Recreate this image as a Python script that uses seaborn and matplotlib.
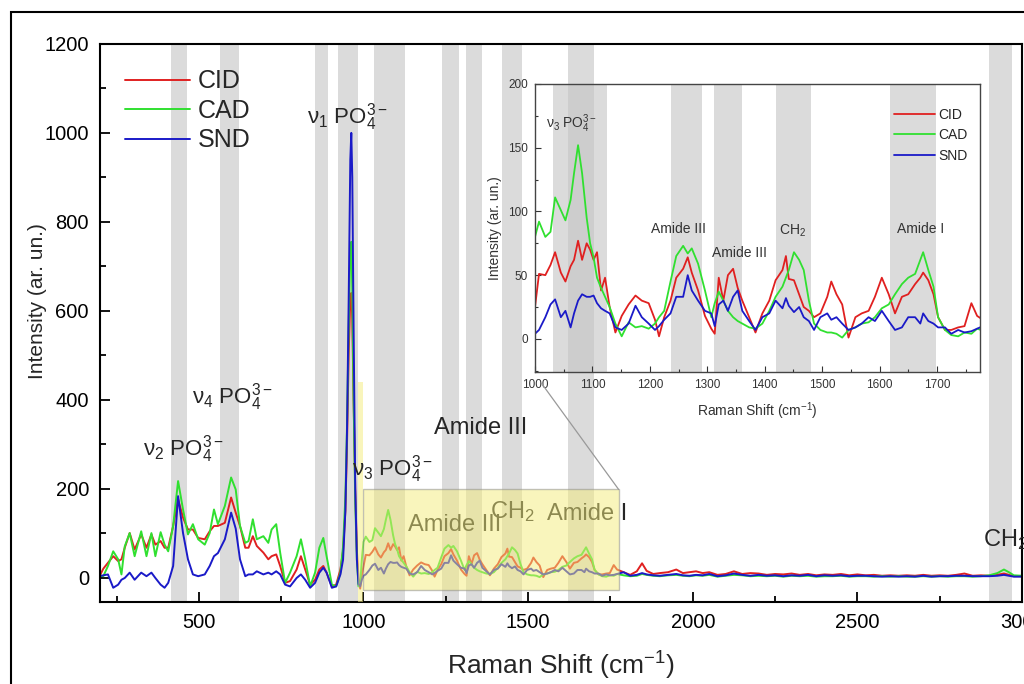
import numpy as np
import pandas as pd
import matplotlib
matplotlib.use('Agg')
import matplotlib.pyplot as plt
import seaborn as sns
from matplotlib.patches import Rectangle, ConnectionPatch

# Raman spectra (shift in cm-1, intensity in ar. un.)
x_low = [200, 210, 224, 240, 255, 265, 275, 290, 305, 325,
         341, 356, 368, 384, 396, 407, 422, 437, 452, 467,
         482, 498, 518, 533, 546, 558, 579, 598, 612, 625,
         641, 651, 664, 676, 696, 711, 721, 735, 747, 762,
         777, 797, 810, 823, 838, 853, 866, 878, 888, 904,
         917, 930, 938, 945, 950, 955, 960, 963, 966, 970,
         975, 980, 985, 990, 995]
cad_low = [5, 3, 26, 59, 41, 7, 70, 100, 48, 104,
           48, 100, 48, 102, 74, 59, 116, 217, 153, 97,
           120, 86, 74, 100, 153, 120, 161, 225, 198, 116,
           78, 82, 131, 86, 93, 78, 108, 120, 56, -12,
           11, 48, 86, 41, -20, 11, 67, 89, 48, -16,
           -20, 11, 70, 180, 340, 560, 740, 755, 650, 400,
           170, 40, -20, -15, 40]
cid_low = [5, 20, 33, 48, 37, 41, 67, 100, 63, 97,
           67, 97, 74, 82, 67, 67, 116, 176, 135, 108,
           108, 89, 86, 104, 116, 116, 123, 180, 146, 116,
           67, 67, 93, 71, 56, 41, 48, 52, 26, -12,
           -8, 18, 48, 18, -16, -5, 18, 26, 11, -20,
           -16, 18, 60, 150, 300, 500, 630, 640, 580, 400,
           200, 60, 0, -25, 5]
snd_low = [3, 5, 7, -23, -16, -5, -1, 11, -5, 11,
           3, 11, -1, -16, -23, -12, 26, 183, 100, 41,
           7, 3, 7, 26, 48, 55, 86, 146, 110, 41,
           3, 7, 7, 14, 7, 11, 7, 14, 7, -16,
           -20, -1, 7, -5, -23, -12, 11, 22, 11, -23,
           -20, 7, 40, 150, 330, 620, 940, 1000, 900, 560,
           200, 40, -15, -20, -5]

x_mid = [1000, 1007, 1018, 1027, 1035, 1045, 1053, 1062, 1068, 1075,
         1082, 1090, 1096, 1102, 1108, 1115, 1122, 1130, 1140, 1151,
         1163, 1175, 1186, 1198, 1209, 1216, 1225, 1236, 1246, 1258,
         1266, 1273, 1284, 1296, 1307, 1313, 1320, 1328, 1336, 1345,
         1353, 1361, 1373, 1384, 1396, 1408, 1419, 1431, 1437, 1442,
         1451, 1460, 1468, 1477, 1486, 1497, 1509, 1516, 1525, 1535,
         1546, 1558, 1569, 1581, 1592, 1604, 1616, 1627, 1639, 1650,
         1662, 1671, 1676, 1685, 1694, 1702, 1714, 1725, 1737, 1748,
         1760, 1770]
cad_mid = [80, 92, 80, 84, 111, 101, 93, 109, 130, 152,
           130, 95, 75, 64, 48, 40, 33, 25, 12, 2,
           13, 9, 10, 8, 12, 17, 22, 45, 65, 73,
           67, 71, 59, 38, 17, 28, 37, 30, 22, 17,
           14, 12, 9, 8, 12, 22, 33, 41, 48, 54,
           68, 62, 54, 30, 12, 7, 5, 5, 4, 1,
           7, 9, 12, 13, 17, 24, 27, 35, 43, 48,
           51, 62, 68, 54, 41, 17, 7, 3, 2, 5,
           4, 8]
cid_mid = [25, 51, 50, 58, 68, 52, 45, 57, 62, 77,
           62, 75, 70, 62, 68, 38, 48, 25, 5, 18,
           27, 34, 30, 28, 15, 2, 17, 30, 48, 55,
           64, 52, 38, 18, 8, 4, 48, 30, 50, 55,
           40, 30, 17, 5, 20, 30, 46, 54, 65, 47,
           46, 35, 25, 22, 17, 20, 33, 45, 35, 27,
           1, 17, 20, 22, 33, 48, 35, 20, 33, 35,
           43, 48, 52, 46, 35, 17, 7, 7, 9, 10,
           28, 18]
snd_mid = [4, 7, 17, 27, 31, 17, 22, 9, 20, 30,
           35, 33, 33, 34, 28, 24, 22, 20, 9, 7,
           12, 26, 17, 12, 7, 10, 15, 20, 33, 33,
           50, 38, 30, 22, 20, 10, 27, 30, 22, 33,
           38, 22, 14, 7, 17, 20, 30, 24, 32, 26,
           21, 25, 17, 14, 7, 17, 20, 15, 17, 12,
           7, 9, 12, 17, 14, 22, 14, 7, 9, 17,
           17, 12, 20, 14, 12, 9, 9, 4, 7, 5,
           6, 8]

x_high = [1790, 1810, 1830, 1846, 1860, 1880, 1900, 1925, 1950, 1970,
          1990, 2010, 2030, 2050, 2075, 2100, 2125, 2150, 2175, 2200,
          2225, 2250, 2275, 2300, 2325, 2350, 2375, 2400, 2425, 2450,
          2475, 2500, 2525, 2550, 2575, 2600, 2625, 2650, 2675, 2700,
          2725, 2750, 2775, 2800, 2825, 2850, 2875, 2900, 2925, 2945,
          2960, 2975, 3000]
cid_high = [12, 6, 14, 32, 15, 8, 10, 12, 18, 10,
            12, 14, 10, 12, 6, 8, 14, 8, 10, 9,
            6, 8, 7, 9, 6, 8, 5, 7, 6, 8,
            5, 7, 5, 6, 4, 5, 4, 5, 4, 6,
            4, 5, 4, 6, 9, 4, 5, 4, 6, 9,
            6, 3, 3]
cad_high = [5, 3, 4, 8, 6, 4, 3, 5, 6, 4,
            3, 5, 4, 6, 2, 4, 6, 5, 3, 4,
            3, 4, 2, 4, 3, 4, 2, 3, 3, 4,
            2, 3, 3, 2, 3, 2, 3, 2, 2, 3,
            2, 3, 2, 3, 3, 2, 3, 5, 10, 18,
            12, 5, 4]
snd_high = [12, 4, 6, 10, 7, 5, 4, 6, 8, 5,
            4, 6, 5, 8, 3, 5, 9, 6, 4, 6,
            4, 5, 3, 5, 4, 6, 3, 5, 4, 5,
            3, 4, 4, 3, 2, 3, 2, 3, 2, 4,
            2, 3, 3, 4, 4, 3, 3, 3, 4, 6,
            4, 2, 2]

samples = ['CID', 'CAD', 'SND']
colors = {'CID': '#e02020', 'CAD': '#30e030', 'SND': '#1a1ac8'}

# highlighted bands (cm-1)
main_bands = [(415, 465), (564, 622), (853, 892), (922, 982), (1032, 1126),
              (1238, 1290), (1311, 1360), (1420, 1480), (1620, 1700), (2900, 2970)]
inset_bands = [(1032, 1126), (1236, 1290), (1311, 1360), (1420, 1480), (1619, 1699)]

shift = x_low + x_mid + x_high
series = {'CID': cid_low + cid_mid + cid_high,
          'CAD': cad_low + cad_mid + cad_high,
          'SND': snd_low + snd_mid + snd_high}
df = pd.concat([pd.DataFrame({'shift': shift, 'intensity': series[s], 'sample': s})
                for s in samples], ignore_index=True)

sns.set_theme(style='ticks')
plt.rcParams['font.family'] = ['Liberation Sans', 'DejaVu Sans']
plt.rcParams['mathtext.fontset'] = 'custom'
plt.rcParams['mathtext.rm'] = 'Liberation Sans'
plt.rcParams['mathtext.it'] = 'Liberation Sans:italic'
plt.rcParams['mathtext.bf'] = 'Liberation Sans:bold'
plt.rcParams['mathtext.default'] = 'regular'

fig = plt.figure(figsize=(10.24, 6.84), dpi=100)
ax = fig.add_axes([0.0977, 0.1199, 0.9004, 0.8158])

for a, b in main_bands:
    ax.axvspan(a, b, color='#c4c4c4', alpha=0.6, lw=0, zorder=0)

sns.lineplot(data=df, x='shift', y='intensity', hue='sample', palette=colors,
             hue_order=samples, estimator=None, sort=False, lw=1.4, ax=ax)
handles, labels = ax.get_legend_handles_labels()
ax.legend(handles, labels, loc='upper left', bbox_to_anchor=(0.003, 0.995),
          frameon=False, fontsize=18, handlelength=2.6, handletextpad=0.3,
          labelspacing=0.22)

ax.set_xlim(200, 3000)
ax.set_ylim(-55, 1200)
ax.set_xticks([500, 1000, 1500, 2000, 2500, 3000])
ax.set_xticks([250, 750, 1250, 1750, 2250, 2750], minor=True)
ax.set_yticks([0, 200, 400, 600, 800, 1000, 1200])
ax.set_yticks([100, 300, 500, 700, 900, 1100], minor=True)
ax.tick_params(which='both', direction='in', width=1.3, labelsize=14.5, pad=8,
               colors='black')
ax.tick_params(which='major', length=7)
ax.tick_params(which='minor', length=4)
for sp in ax.spines.values():
    sp.set_linewidth(1.5)
    sp.set_color('black')
ax.set_xlabel('Raman Shift (cm$^{-1}$)', fontsize=19)
ax.set_ylabel('Intensity (ar. un.)', fontsize=15)
ax.xaxis.set_label_coords(0.5, -0.086)
ax.yaxis.set_label_coords(-0.058, 0.54)

# peak labels
ax.text(452, 290, 'ν$_2$ PO$_4^{3-}$', fontsize=16, ha='center', va='center', zorder=5)
ax.text(601, 405, 'ν$_4$ PO$_4^{3-}$', fontsize=16, ha='center', va='center', zorder=5)
ax.text(950, 1035, 'ν$_1$ PO$_4^{3-}$', fontsize=16, ha='center', va='center', zorder=5)
ax.text(1087, 245, 'ν$_3$ PO$_4^{3-}$', fontsize=16, ha='center', va='center', zorder=5)
ax.text(1357, 337, 'Amide III', fontsize=17, ha='center', va='center', zorder=5)
ax.text(1278, 118, 'Amide III', fontsize=17, ha='center', va='center', zorder=2.5)
ax.text(1451, 148, 'CH$_2$', fontsize=17, ha='center', va='center', zorder=2.5)
ax.text(1679, 142, 'Amide I', fontsize=17, ha='center', va='center', zorder=2.5)
ax.text(2880, 85, 'CH$_2$', fontsize=17, ha='left', va='center', zorder=5)

# zoomed region highlight
ax.add_patch(Rectangle((1000, -28), 775, 226, facecolor='#f4ec7a', alpha=0.5,
                       edgecolor='#888888', lw=1, zorder=3))
ax.add_patch(Rectangle((982, -55), 18, 495, facecolor='#f4ec7a', alpha=0.5,
                       lw=0, zorder=3))

# inset
ins = fig.add_axes([535 / 1024, 1 - 372 / 684, 445 / 1024, 288 / 684])
ins.set_facecolor('none')
for a, b in inset_bands:
    ins.axvspan(a, b, color='#c4c4c4', alpha=0.6, lw=0, zorder=0)
sns.lineplot(data=df, x='shift', y='intensity', hue='sample', palette=colors,
             hue_order=samples, estimator=None, sort=False, lw=1.3, ax=ins)
h2, l2 = ins.get_legend_handles_labels()
ins.legend(h2, l2, loc='upper right', bbox_to_anchor=(1.0, 0.96), frameon=False,
           fontsize=10, handlelength=3.0, handletextpad=0.2, labelspacing=0.45)
ins.set_xlim(1000, 1775)
ins.set_ylim(-26, 200)
ins.set_xticks([1000, 1100, 1200, 1300, 1400, 1500, 1600, 1700])
ins.set_xticks([1050, 1150, 1250, 1350, 1450, 1550, 1650, 1750], minor=True)
ins.set_yticks([0, 50, 100, 150, 200])
ins.set_yticks([-25, 25, 75, 125, 175], minor=True)
ins.tick_params(which='both', direction='in', width=0.8, labelsize=8.5, pad=5,
                colors='#333333')
ins.tick_params(which='major', length=4)
ins.tick_params(which='minor', length=2)
for sp in ins.spines.values():
    sp.set_linewidth(1)
    sp.set_color('#444444')
ins.set_xlabel('Raman Shift (cm$^{-1}$)', fontsize=10, color='#333333')
ins.set_ylabel('Intensity (ar. un.)', fontsize=10, color='#333333')
ins.xaxis.set_label_coords(0.5, -0.10)
ins.yaxis.set_label_coords(-0.075, 0.5)

ins.text(1064, 169, 'ν$_3$ PO$_4^{3-}$', fontsize=10, ha='center', va='center', color='#333333')
ins.text(1250, 86, 'Amide III', fontsize=10, ha='center', va='center', color='#333333')
ins.text(1356, 67, 'Amide III', fontsize=10, ha='center', va='center', color='#333333')
ins.text(1449, 85, 'CH$_2$', fontsize=10, ha='center', va='center', color='#333333')
ins.text(1672, 86, 'Amide I', fontsize=10, ha='center', va='center', color='#333333')

con = ConnectionPatch(xyA=(1775, 198), coordsA=ax.transData,
                      xyB=(0.015, -0.04), coordsB=ins.transAxes,
                      color='#999999', lw=0.9)
fig.add_artist(con)

# outer frame of the figure
fig.add_artist(Rectangle((11 / 1024, -0.1), 1.2, 1 - 12 / 684 + 0.1,
                         transform=fig.transFigure, fill=False,
                         ec='black', lw=1.5))

fig.savefig('out.png', dpi=100)
